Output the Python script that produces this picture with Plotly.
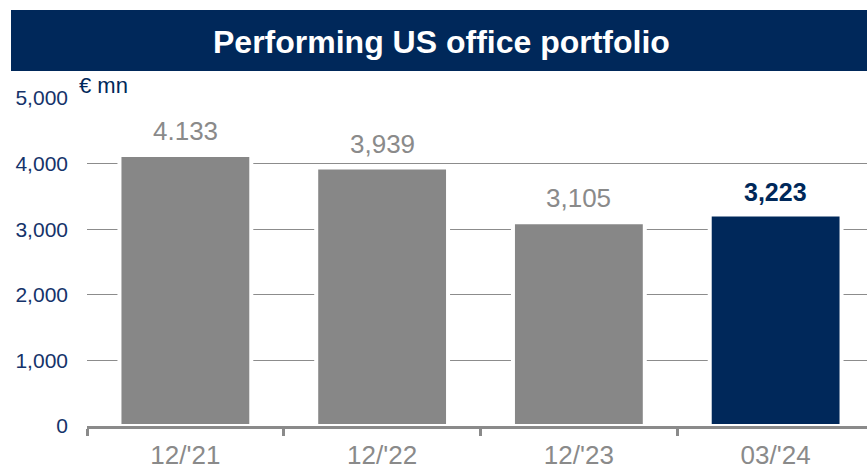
import plotly.graph_objects as go

categories = ["12/'21", "12/'22", "12/'23", "03/'24"]
values = [4133, 3939, 3105, 3223]
value_labels = ["4.133", "3,939", "3,105", "3,223"]
bar_colors = ["#878787", "#878787", "#878787", "#00285A"]
label_colors = ["#8a8a8a", "#8a8a8a", "#8a8a8a", "#00285A"]
label_bold = [False, False, False, True]
y_ticks = [0, 1000, 2000, 3000, 4000, 5000]
y_tick_text = ["0", "1,000", "2,000", "3,000", "4,000", "5,000"]
title_text = "Performing US office portfolio"
unit_text = "€ mn"

NAVY = "#00285A"
FONT = "Liberation Sans, Arial, sans-serif"

fig = go.Figure()
fig.add_trace(go.Bar(
    x=categories, y=values,
    marker=dict(color=bar_colors, line=dict(color="white", width=4)),
    width=0.67,
    hoverinfo="skip",
))

for c, v, t, col, b in zip(categories, values, value_labels, label_colors, label_bold):
    fig.add_annotation(
        x=c, y=v, xref="x", yref="y",
        text=f"<b>{t}</b>" if b else t,
        showarrow=False, yanchor="bottom", yshift=7,
        font=dict(family=FONT, size=26 if not b else 25, color=col),
    )

# title banner
fig.add_shape(type="rect", xref="paper", yref="paper",
              x0=-76/780, x1=1.02, y0=(466-40-71)/328, y1=(466-40-10)/328,
              fillcolor=NAVY, line=dict(width=0), layer="above")
fig.add_annotation(xref="paper", yref="paper", x=(441-87)/780, y=(466-40-42)/328,
                   text=f"<b>{title_text}</b>", showarrow=False,
                   xanchor="center", yanchor="middle",
                   font=dict(family=FONT, size=32, color="white"))
fig.add_annotation(xref="paper", yref="paper", x=-10/780, y=(466-40-86)/328,
                   text=unit_text, showarrow=False, xanchor="left", yanchor="middle",
                   font=dict(family=FONT, size=22, color=NAVY))

fig.update_layout(
    width=867, height=466,
    margin=dict(l=87, r=0, t=98, b=40, autoexpand=False),
    paper_bgcolor="white", plot_bgcolor="white",
    showlegend=False,
    font=dict(family=FONT),
    xaxis=dict(
        type="category", range=[-0.5, 3.5 - 7/196.7], automargin=False,
        tickson="boundaries", ticks="outside", ticklen=7, tickwidth=3,
        tickcolor="#8a8a8a", showline=True, linecolor="#8a8a8a", linewidth=3,
        showgrid=False, ticklabelstandoff=4,
        tickfont=dict(family=FONT, size=26, color="#8a8a8a"),
    ),
    yaxis=dict(
        range=[0, 5000], tickvals=y_ticks, ticktext=y_tick_text, automargin=False,
        showgrid=True, gridcolor="#8c8c8c", gridwidth=1, zeroline=False,
        ticks="", ticklabelstandoff=18,
        tickfont=dict(family=FONT, size=21, color="#15336A"),
    ),
)

fig.write_html("out.html", config={"displayModeBar": False},
               post_script="document.body.style.margin='0px';")
